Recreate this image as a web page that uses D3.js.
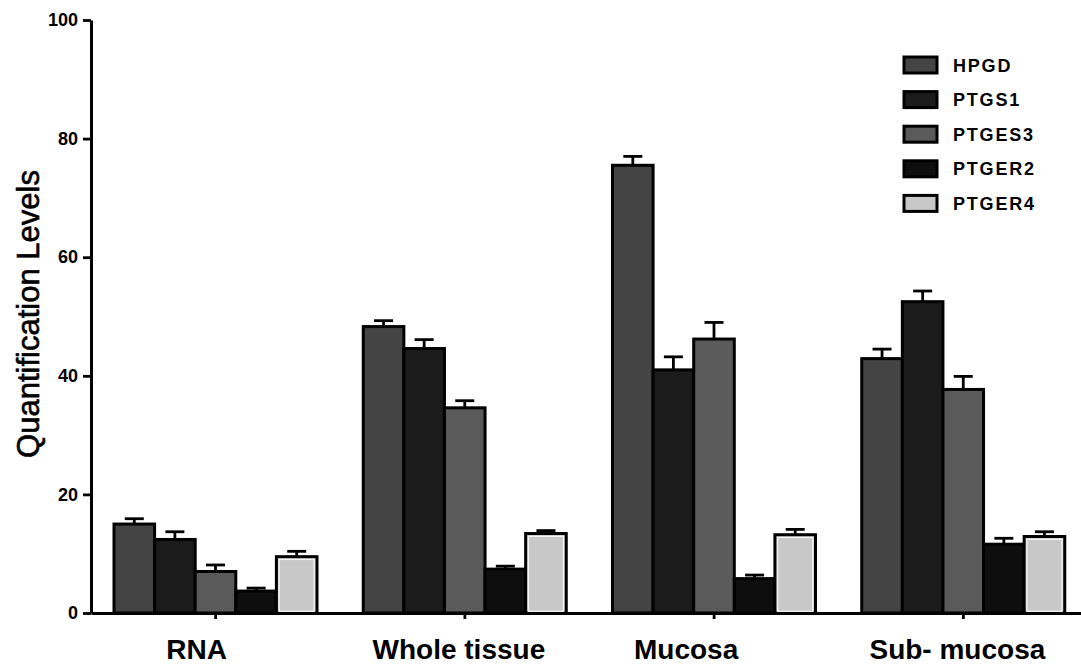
<!DOCTYPE html>
<html>
<head>
<meta charset="utf-8">
<script src="https://cdn.jsdelivr.net/npm/d3@7"></script>
<style>
  body { margin: 0; background: #fff; }
  text { font-family: "Liberation Sans", Arial, sans-serif; }
</style>
</head>
<body>
<div class="canvas"><svg></svg></div>
<script>
// groups and series
const groups = ['RNA', 'Whole tissue', 'Mucosa', 'Sub- mucosa'];
const series = ['HPGD', 'PTGS1', 'PTGES3', 'PTGER2', 'PTGER4'];

// mean values per series (one per group)
const hpgd = [15.0, 48.3, 75.5, 42.9];
const ptgs1 = [12.4, 44.6, 41.0, 52.5];
const ptges3 = [7.0, 34.6, 46.2, 37.7];
const ptger2 = [3.7, 7.4, 5.8, 11.6];
const ptger4 = [9.5, 13.4, 13.2, 12.9];

// upper error (SEM)
const hpgdErr = [0.9, 1.0, 1.5, 1.6];
const ptgs1Err = [1.3, 1.5, 2.2, 1.8];
const ptges3Err = [1.1, 1.2, 2.8, 2.2];
const ptger2Err = [0.5, 0.5, 0.6, 1.0];
const ptger4Err = [0.9, 0.5, 0.9, 0.8];

const yTicks = [0, 20, 40, 60, 80, 100];

const values = [hpgd, ptgs1, ptges3, ptger2, ptger4];
const errors = [hpgdErr, ptgs1Err, ptges3Err, ptger2Err, ptger4Err];
const fills = ['#444444', '#1b1b1b', '#5a5a5a', '#0e0e0e', '#c8c8c8'];

const width = 1081, height = 669;
const svg = d3.select('.canvas').select('svg')
    .attr('width', width)
    .attr('height', height);

const rows = [];
groups.forEach((g, gi) => {
    series.forEach((s, si) => {
        rows.push({ group: g, name: s, i: si, value: values[si][gi], err: errors[si][gi] });
    });
});

const x0 = d3.scaleBand().domain(groups).range([91, 1088]).padding(0);
const x1 = d3.scaleBand().domain(series).range([23, 226]).padding(0);
const y = d3.scaleLinear().domain([0, 100]).range([613, 20]);

const graph = svg.append('g');

// bars
graph.selectAll('rect.bar')
    .data(rows)
    .enter().append('rect')
    .attr('class', 'bar')
    .attr('x', d => x0(d.group) + x1(d.name))
    .attr('y', d => y(d.value))
    .attr('width', x1.bandwidth())
    .attr('height', d => y(0) - y(d.value))
    .attr('fill', d => fills[d.i])
    .attr('stroke', '#000')
    .attr('stroke-width', 3);

// light inner rim on the pale bars
graph.selectAll('rect.rim')
    .data(rows.filter(d => d.name === 'PTGER4'))
    .enter().append('rect')
    .attr('x', d => x0(d.group) + x1(d.name) + 2.8)
    .attr('y', d => y(d.value) + 2.8)
    .attr('width', x1.bandwidth() - 5.6)
    .attr('height', d => y(0) - y(d.value) - 4.5)
    .attr('fill', 'none')
    .attr('stroke', '#f4f4f4')
    .attr('stroke-width', 1.3);

// error bars (upper only)
const eb = graph.selectAll('g.err')
    .data(rows)
    .enter().append('g')
    .attr('class', 'err')
    .attr('transform', d => `translate(${x0(d.group) + x1(d.name) + x1.bandwidth() / 2},0)`)
    .attr('stroke', '#000')
    .attr('stroke-width', 2.8);
eb.append('line')
    .attr('y1', d => y(d.value))
    .attr('y2', d => y(d.value + d.err));
eb.append('line')
    .attr('x1', -9.5).attr('x2', 9.5)
    .attr('y1', d => y(d.value + d.err))
    .attr('y2', d => y(d.value + d.err));

// y axis
const yAxis = svg.append('g')
    .attr('transform', 'translate(91,0)')
    .call(d3.axisLeft(y).tickValues(yTicks).tickSize(8).tickSizeOuter(0).tickPadding(5));
yAxis.select('.domain').attr('stroke-width', 3);
yAxis.selectAll('.tick line').attr('stroke-width', 2.8);
yAxis.selectAll('.tick text')
    .attr('font-size', 18)
    .attr('font-weight', 'bold')
    .attr('fill', '#000');

// x axis
const xAxis = svg.append('g')
    .attr('transform', 'translate(0,613)')
    .call(d3.axisBottom(x0).tickSize(6).tickSizeOuter(0).tickFormat(''));
xAxis.select('.domain').attr('stroke-width', 3);
xAxis.selectAll('.tick line').attr('stroke-width', 2.8);

const labelShift = [-19, -6, -28, -6];
svg.selectAll('text.xlab')
    .data(groups)
    .enter().append('text')
    .attr('class', 'xlab')
    .attr('x', (d, i) => x0(d) + x0.bandwidth() / 2 + labelShift[i])
    .attr('y', 659)
    .attr('text-anchor', 'middle')
    .attr('font-size', 28)
    .attr('font-weight', 'bold')
    .text(d => d);

// y label
svg.append('text')
    .attr('transform', 'translate(39,314) rotate(-90)')
    .attr('text-anchor', 'middle')
    .attr('font-size', 31)
    .attr('stroke', '#000')
    .attr('stroke-width', 0.6)
    .text('Quantification Levels');

// legend
const legend = svg.selectAll('g.legend')
    .data(series)
    .enter().append('g')
    .attr('class', 'legend')
    .attr('transform', (d, i) => `translate(904,${65 + i * 34.6})`);
legend.append('rect')
    .attr('x', 0).attr('y', -8)
    .attr('width', 33).attr('height', 16)
    .attr('fill', (d, i) => fills[i])
    .attr('stroke', '#000')
    .attr('stroke-width', 3);
legend.append('text')
    .attr('x', 49)
    .attr('y', 6.5)
    .attr('font-size', 18)
    .attr('font-weight', 'bold')
    .attr('letter-spacing', '1.8px')
    .text(d => d);
</script>
</body>
</html>
